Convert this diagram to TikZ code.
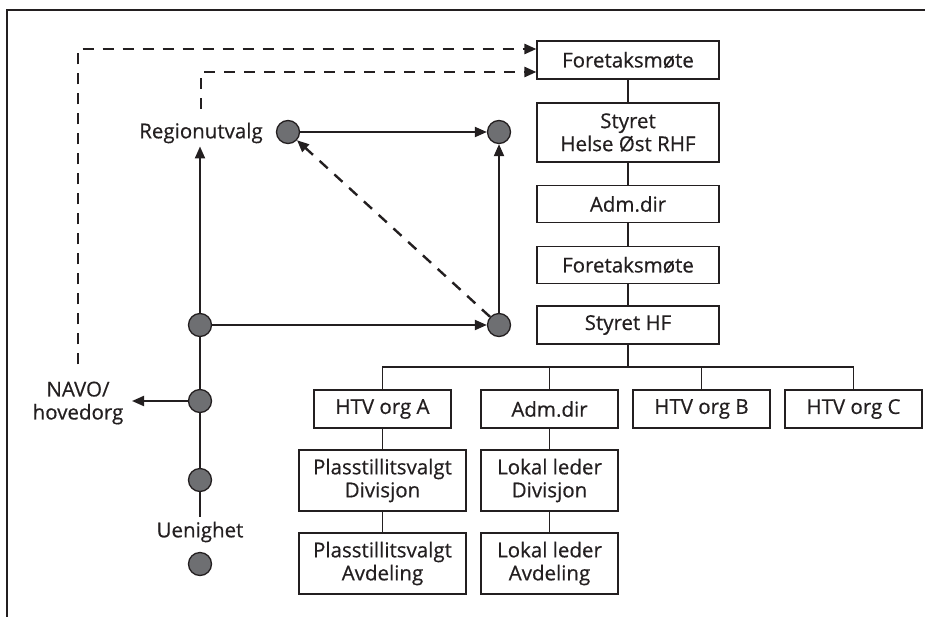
\documentclass[tikz,border=0pt]{standalone}
\usepackage{fontspec}
\setmainfont{Open Sans}[FakeBold=0.5]
\usetikzlibrary{arrows.meta,calc}
\definecolor{dotgray}{RGB}{110,111,114}
\definecolor{ink}{RGB}{35,31,32}
\begin{document}
\begin{tikzpicture}[x=1pt,y=-1pt,
  box/.style={draw=ink,line width=1.2pt,align=center,inner sep=0pt,
    font=\fontsize{20.5}{23}\selectfont,text=ink},
  lbl/.style={align=center,inner sep=3pt,font=\fontsize{20.5}{23}\selectfont,text=ink},
  dot/.style={circle,draw=ink,line width=1.3pt,fill=dotgray,minimum size=23pt,inner sep=0pt},
  arr/.style={draw=ink,line width=2pt,-{Triangle[length=12pt,width=10pt]}},
  dsh/.style={draw=ink,line width=2.4pt,dash pattern=on 11pt off 9pt},
  link/.style={draw=ink,line width=1.2pt}]
\useasboundingbox (0,0) rectangle (925,616);
\clip (0,0) rectangle (925,616);
% frame
\draw[ink,line width=2.5pt] (7,640) -- (7,10) -- (950,10);

% right column
\node[box,minimum width=182pt,minimum height=38pt] (fm1) at (628,60) {Foretaksmøte};
\node[box,minimum width=182pt,minimum height=59pt] (rhf) at (628,132.5) {Styret\\Helse Øst RHF};
\node[box,minimum width=182pt,minimum height=37pt] (adm1) at (628,204) {Adm.dir};
\node[box,minimum width=182pt,minimum height=37pt] (fm2) at (628,265) {Foretaksmøte};
\node[box,minimum width=182pt,minimum height=38pt] (shf) at (628,325) {Styret HF};
\coordinate (bus) at (628,367);

% row 1
\node[box,minimum width=137pt,minimum height=38pt] (htva) at (382.5,409) {HTV org A};
\node[box,minimum width=137pt,minimum height=38pt] (adm2) at (549.5,409) {Adm.dir};
\node[box,minimum width=137pt,minimum height=38pt] (htvb) at (701.5,409) {HTV org B};
\node[box,minimum width=137pt,minimum height=38pt] (htvc) at (853.5,409) {HTV org C};
% row 2
\node[box,minimum width=167pt,minimum height=61pt] (pdiv) at (382.5,480.5) {Plasstillitsvalgt\\Divisjon};
\node[box,minimum width=137pt,minimum height=61pt] (ldiv) at (549.5,480.5) {Lokal leder\\Divisjon};
% row 3
\node[box,minimum width=167pt,minimum height=61pt] (pavd) at (382.5,563.5) {Plasstillitsvalgt\\Avdeling};
\node[box,minimum width=137pt,minimum height=61pt] (lavd) at (549.5,563.5) {Lokal leder\\Avdeling};

\draw[link] (fm1) -- (rhf);
\draw[link] (rhf) -- (adm1);
\draw[link] (adm1) -- (fm2);
\draw[link] (fm2) -- (shf);
\draw[link] (shf) -- (bus);
\draw[link] (bus) -| (htva);
\draw[link] (bus) -| (adm2);
\draw[link] (bus) -| (htvb);
\draw[link] (bus) -| (htvc);
\draw[link] (htva) -- (pdiv);
\draw[link] (pdiv) -- (pavd);
\draw[link] (adm2) -- (ldiv);
\draw[link] (ldiv) -- (lavd);

% left part
\node[lbl] (reg) at (201,133) {Regionutvalg};
\node[lbl] (navo) at (78,403) {NAVO/\\hovedorg};
\node[lbl] (uen) at (200,532) {Uenighet};
\node[dot] (cR) at (288,132) {};
\node[dot] (cTR) at (499,132) {};
\node[dot] (cBR) at (499,325) {};
\node[dot] (c1) at (200,325) {};
\node[dot] (c2) at (200,401) {};
\node[dot] (c3) at (200,480) {};
\node[dot] (c4) at (200,564) {};
\coordinate (vend) at (200,517);
\coordinate (navotip) at (132,401);

\draw[arr] (c1) -- (c1 |- reg.south);
\draw[draw=ink,line width=2pt] (c1) -- (c2);
\draw[draw=ink,line width=2pt] (c2) -- (c3);
\draw[draw=ink,line width=2pt] (c3) -- (vend);
\draw[arr] (c2) -- (navotip);
\draw[arr] (c1) -- (cBR);
\draw[arr] (cR) -- (cTR);
\draw[arr] (cBR) -- (cTR);
\draw[dsh,-{Triangle[length=12pt,width=10pt]}] (cBR) -- (cR);

% dashed links to Foretaksmøte
\draw[dsh,-{Triangle[length=12pt,width=10pt]},shorten <=14pt] (navo.north) |- ([yshift=11pt]fm1.west);
\draw[dsh,-{Triangle[length=12pt,width=10pt]},shorten <=11pt] (reg.north) |- ([yshift=-12pt]fm1.west);
\end{tikzpicture}
\end{document}
